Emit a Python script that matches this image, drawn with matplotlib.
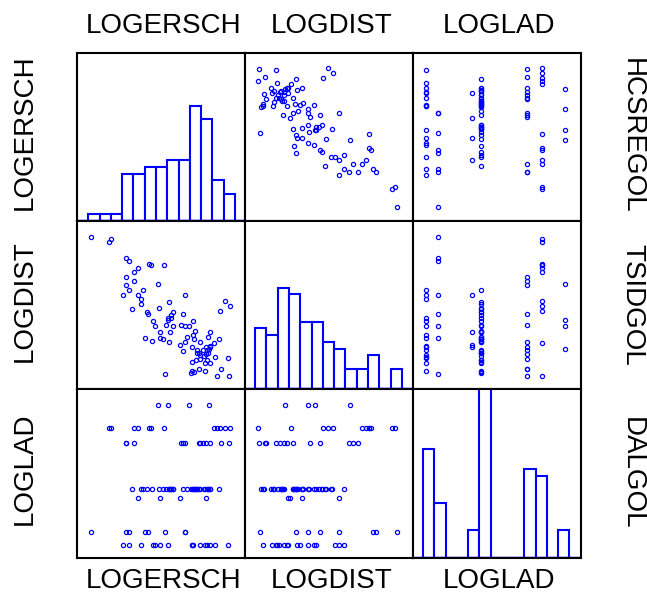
import matplotlib
matplotlib.use('Agg')
import matplotlib.pyplot as plt
import numpy as np

plt.rcParams['font.family'] = ['Liberation Sans', 'DejaVu Sans']

# variable names (top/bottom/left) and the reversed ones on the right side
names = ['LOGERSCH', 'LOGDIST', 'LOGLAD']
right_names = ['HCSREGOL', 'TSIDGOL', 'DALGOL']

# observations (scaled values), one entry per case
logersch = [0.084, 0.191, 0.205, 0.291, 0.309, 0.426, 0.438, 0.518, 0.365, 0.340,
            0.293, 0.340, 0.293, 0.480, 0.309, 0.392, 0.275, 0.361, 0.382, 0.380,
            0.643, 0.880, 0.908, 0.546, 0.490, 0.570, 0.329, 0.851, 0.414, 0.422,
            0.562, 0.631, 0.542, 0.544, 0.450, 0.558, 0.689, 0.528, 0.466, 0.574,
            0.622, 0.641, 0.669, 0.705, 0.791, 0.494, 0.554, 0.691, 0.657, 0.407,
            0.446, 0.492, 0.510, 0.548, 0.641, 0.697, 0.731, 0.781, 0.847, 0.612,
            0.815, 0.765, 0.789, 0.685, 0.717, 0.771, 0.789, 0.629, 0.725, 0.777,
            0.733, 0.707, 0.819, 0.735, 0.761, 0.789, 0.896, 0.727, 0.859, 0.759,
            0.685, 0.676, 0.697, 0.522, 0.831, 0.904, 0.713, 0.685, 0.751, 0.767,
            0.783, 0.753, 0.773]

logdist = [0.907, 0.875, 0.895, 0.781, 0.761, 0.748, 0.740, 0.738, 0.720, 0.696,
           0.670, 0.642, 0.622, 0.626, 0.592, 0.590, 0.561, 0.561, 0.536, 0.509,
           0.561, 0.525, 0.497, 0.519, 0.485, 0.457, 0.477, 0.467, 0.457, 0.449,
           0.443, 0.445, 0.423, 0.414, 0.408, 0.423, 0.408, 0.382, 0.374, 0.374,
           0.384, 0.374, 0.374, 0.344, 0.340, 0.340, 0.342, 0.325, 0.314, 0.304,
           0.290, 0.308, 0.302, 0.284, 0.284, 0.300, 0.284, 0.310, 0.302, 0.266,
           0.276, 0.254, 0.258, 0.249, 0.235, 0.235, 0.249, 0.225, 0.215, 0.215,
           0.205, 0.175, 0.190, 0.183, 0.159, 0.155, 0.185, 0.123, 0.121, 0.111,
           0.109, 0.095, 0.105, 0.091, 0.080, 0.082, 0.219, 0.165, 0.231, 0.209,
           0.239, 0.199, 0.175]

loglad = [0.149, 0.768, 0.768, 0.149, 0.149, 0.768, 0.768, 0.768, 0.768, 0.768,
          0.679, 0.679, 0.679, 0.905, 0.077, 0.405, 0.077, 0.351, 0.077, 0.405,
          0.149, 0.768, 0.768, 0.405, 0.405, 0.405, 0.405, 0.768, 0.405, 0.149,
          0.405, 0.679, 0.077, 0.905, 0.077, 0.405, 0.405, 0.405, 0.077, 0.405,
          0.679, 0.149, 0.905, 0.405, 0.405, 0.351, 0.405, 0.077, 0.405, 0.149,
          0.405, 0.077, 0.405, 0.405, 0.679, 0.405, 0.405, 0.405, 0.405, 0.351,
          0.768, 0.351, 0.077, 0.077, 0.405, 0.077, 0.679, 0.405, 0.405, 0.405,
          0.077, 0.405, 0.077, 0.679, 0.077, 0.405, 0.077, 0.679, 0.679, 0.405,
          0.077, 0.405, 0.405, 0.149, 0.768, 0.679, 0.405, 0.405, 0.679, 0.679,
          0.905, 0.405, 0.405]

# histogram bin ranges per variable, 13 bins each
hist_range = [(0.067, 0.941), (0.06, 0.934), (0.061, 0.930)]
nbins = 13
hist_ymax = 24.8

data = [logersch, logdist, loglad]

W, H = 647, 594
fig, axes = plt.subplots(3, 3, figsize=(W / 100, H / 100), dpi=100)
fig.subplots_adjust(left=77 / W, right=581 / W, bottom=1 - 557.5 / H, top=1 - 53 / H,
                    wspace=0, hspace=0)

for i in range(3):      # row -> y variable
    for j in range(3):  # column -> x variable
        ax = axes[i, j]
        if i == j:
            edges = np.linspace(hist_range[i][0], hist_range[i][1], nbins + 1)
            ax.hist(data[i], bins=edges, facecolor='white', edgecolor='blue', linewidth=1.5)
            ax.axhline(0, color='blue', lw=2.5)
            ax.set_ylim(0, hist_ymax)
        else:
            ax.plot(data[j], data[i], 'o', ms=3.0, mfc='none', mec='blue', mew=0.9)
            ax.set_ylim(0, 1)
        ax.set_xlim(0, 1)
        ax.set_xticks([])
        ax.set_yticks([])
        for s in ax.spines.values():
            s.set_linewidth(1.5)

centers = [164, 332, 499]
rows = [132, 301, 469]
for k in range(3):
    c = centers[k]
    fig.text(c / W, 1 - 26 / H, names[k], ha='center', va='center', fontsize=20)
    fig.text(c / W, 1 - 581 / H, names[k], ha='center', va='center', fontsize=20)
    fig.text(25 / W, 1 - rows[k] / H, names[k], ha='center', va='center',
             fontsize=20, rotation=90)
    fig.text(632 / W, 1 - (rows[k] + 4) / H, right_names[k], ha='center', va='center',
             fontsize=20, rotation=-90)

fig.savefig('out.png', dpi=100)
